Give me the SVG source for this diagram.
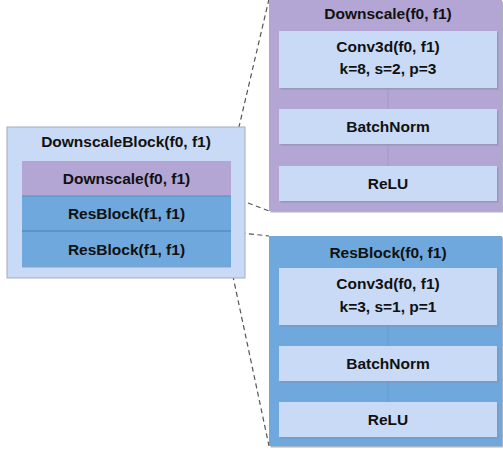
<svg xmlns="http://www.w3.org/2000/svg" width="503" height="450" viewBox="0 0 503 450">
<style>
text{font-family:"Liberation Sans",Arial,sans-serif;font-weight:bold;font-size:15.5px;fill:#111;text-anchor:middle}
.light{fill:#C9DAF6}
.purple{fill:#B3A6D4}
.blue{fill:#6FA8DC}
.shadow{fill:#8B93A8;opacity:0.7}
.dash{stroke:#555;stroke-width:1.2;stroke-dasharray:5 3.5;fill:none}
.link{stroke-width:1;fill:none}
</style>
<g id="connectors">
<line class="dash" x1="231" y1="161" x2="269" y2="-1"/>
<line class="dash" x1="232" y1="197" x2="269" y2="211"/>
<line class="dash" x1="232" y1="232" x2="269" y2="236"/>
<line class="dash" x1="231" y1="267" x2="269" y2="446"/>
</g>
<g id="downscale-block">
<rect x="7" y="127" width="238" height="151" class="light" stroke="#A3ABBE" stroke-width="1"/>
<text x="126" y="146.5">DownscaleBlock(f0, f1)</text>
</g>
<g id="row-downscale">
<rect x="22" y="161" width="209" height="35" class="purple"/>
<text x="126.5" y="184">Downscale(f0, f1)</text>
</g>
<g id="row-resblock1">
<rect x="22" y="196" width="209" height="35" class="blue"/>
<line x1="22" y1="196" x2="231" y2="196" stroke="#5E8FBE" stroke-width="1"/>
<text x="126.5" y="219">ResBlock(f1, f1)</text>
</g>
<g id="row-resblock2">
<rect x="22" y="231" width="209" height="36" class="blue"/>
<line x1="22" y1="231" x2="231" y2="231" stroke="#4F7FAE" stroke-width="1"/>
<line x1="22" y1="267" x2="231" y2="267" stroke="#8BA0C0" stroke-width="1"/>
<text x="126.5" y="254.5">ResBlock(f1, f1)</text>
</g>
<g id="downscale-detail">
<rect x="270.5" y="1.5" width="233" height="211" class="shadow"/>
<rect x="269" y="-1" width="233" height="212" class="purple"/>
<text x="388" y="19">Downscale(f0, f1)</text>
<line class="link" stroke="#A597C6" x1="388" y1="88" x2="388" y2="166"/>
</g>
<g id="ds-conv">
<rect x="280.5" y="32.5" width="218" height="57" class="shadow"/>
<rect x="279" y="31" width="218" height="57" class="light"/>
<text x="388" y="51.5">Conv3d(f0, f1)</text>
<text x="388" y="74">k=8, s=2, p=3</text>
</g>
<g id="ds-bn">
<rect x="280.5" y="110.5" width="218" height="35" class="shadow"/>
<rect x="279" y="109" width="218" height="35" class="light"/>
<text x="388" y="132">BatchNorm</text>
</g>
<g id="ds-relu">
<rect x="280.5" y="167.5" width="218" height="35" class="shadow"/>
<rect x="279" y="166" width="218" height="35" class="light"/>
<text x="388" y="189">ReLU</text>
</g>
<g id="resblock-detail">
<rect x="270.5" y="237.5" width="233" height="210" class="shadow"/>
<rect x="269" y="236" width="233" height="210" class="blue"/>
<text x="388" y="257.5">ResBlock(f0, f1)</text>
<line class="link" stroke="#659CD0" x1="388" y1="325" x2="388" y2="402"/>
</g>
<g id="rb-conv">
<rect x="280.5" y="269.5" width="218" height="57" class="shadow"/>
<rect x="279" y="268" width="218" height="57" class="light"/>
<text x="388" y="288.5">Conv3d(f0, f1)</text>
<text x="388" y="311.5">k=3, s=1, p=1</text>
</g>
<g id="rb-bn">
<rect x="280.5" y="347.5" width="218" height="35" class="shadow"/>
<rect x="279" y="346" width="218" height="35" class="light"/>
<text x="388" y="369">BatchNorm</text>
</g>
<g id="rb-relu">
<rect x="280.5" y="403.5" width="218" height="35" class="shadow"/>
<rect x="279" y="402" width="218" height="35" class="light"/>
<text x="388" y="425">ReLU</text>
</g>
</svg>
